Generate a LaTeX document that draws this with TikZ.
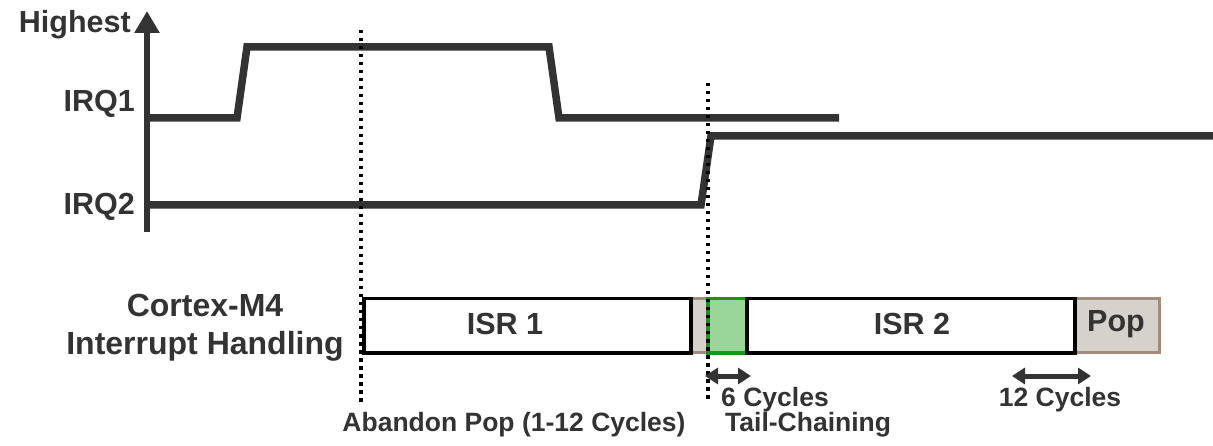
\documentclass[tikz,border=0pt]{standalone}
\usepackage{fontspec}
\setmainfont{Liberation Sans}
\usetikzlibrary{arrows.meta}
\definecolor{ink}{HTML}{333333}
\definecolor{popfill}{HTML}{D6D1CB}
\definecolor{popedge}{HTML}{A08C78}
\definecolor{tcfill}{HTML}{9AD59A}
\definecolor{tcedge}{HTML}{139913}
\tikzset{
  lbl/.style={inner sep=0pt, text=ink, font=\bfseries\fontsize{30.5}{36}\selectfont},
  small/.style={inner sep=0pt, text=ink, font=\bfseries\fontsize{26.5}{32}\selectfont},
  signal/.style={draw=ink, line width=7.5pt},
  marker/.style={draw=black, line width=3.5pt, dash pattern=on 3.5pt off 4.5pt},
  slot/.style={rectangle, inner sep=0pt, anchor=north west},
  isrbox/.style={slot, draw=black, fill=white, line width=3.5pt},
  popbox/.style={slot, draw=popedge, fill=popfill, line width=3pt},
  tcbox/.style={slot, draw=tcedge, fill=tcfill, line width=3.5pt},
  span/.style={draw=ink, line width=5pt, {Triangle[width=16pt,length=13pt]}-{Triangle[width=16pt,length=13pt]}},
}
\begin{document}
\begin{tikzpicture}[x=1pt,y=-1pt]
\useasboundingbox (0,0) rectangle (1213,446);

% priority axis
\coordinate (axbot) at (147,232);
\coordinate (axtop) at (147,11);
\draw[draw=ink, line width=6pt, -{Triangle[width=24pt,length=22pt]}] (axbot) -- (axtop);
\node[lbl, anchor=base east] (hi) at (131,33) {Highest};
\node[lbl, anchor=base east] (irq1) at (135,112) {IRQ1};
\node[lbl, anchor=base east] (irq2) at (135,215) {IRQ2};

% IRQ1 priority level
\coordinate (p1a) at (144,118);
\coordinate (p1b) at (237,118);
\coordinate (p1c) at (247,47);
\coordinate (p1d) at (549,47);
\coordinate (p1e) at (559,118);
\coordinate (p1f) at (839,118);
\draw[signal] (p1a) -- (p1b) -- (p1c) -- (p1d) -- (p1e) -- (p1f);

% IRQ2 priority level
\coordinate (p2a) at (144,205);
\coordinate (p2b) at (701,205);
\coordinate (p2c) at (711,136);
\coordinate (p2d) at (1213,136);
\draw[signal] (p2a) -- (p2b) -- (p2c) -- (p2d);

% time markers
\coordinate (m1t) at (361,30);
\coordinate (m1b) at (361,403);
\coordinate (m2t) at (708,83);
\coordinate (m2b) at (708,403);

% handling timeline
\node[popbox, minimum width=16pt, minimum height=54pt] (gap) at (690,297) {};
\node[popbox, minimum width=85pt, minimum height=54pt] (pop) at (1073,297) {};
\node[tcbox, minimum width=39pt, minimum height=54pt] (tc) at (706,297) {};
\node[isrbox, minimum width=327pt, minimum height=54pt] (isr1) at (362,297) {};
\node[isrbox, minimum width=328pt, minimum height=54pt] (isr2) at (745,297) {};
\node[lbl] (isr1t) at (505,324) {ISR 1};
\node[lbl] (isr2t) at (912,324) {ISR 2};
\node[lbl] (popt) at (1116,324) {Pop};

\draw[marker] (m1t) -- (m1b);
\draw[marker] (m2t) -- (m2b);

\node[lbl, align=center, font=\bfseries\fontsize{32}{38}\selectfont, anchor=base] (core) at (205,355) {Cortex-M4\\Interrupt Handling};

% cycle spans
\coordinate (s6l) at (705,376);
\coordinate (s6r) at (751,376);
\coordinate (s12l) at (1012,376);
\coordinate (s12r) at (1091,376);
\draw[span] (s6l) -- (s6r);
\draw[span] (s12l) -- (s12r);
\node[small, anchor=base] (c6) at (775,406) {6 Cycles};
\node[small, anchor=base] (c12) at (1060,406) {12 Cycles};
\node[small, anchor=base] (ab) at (514,431) {Abandon Pop (1-12 Cycles)};
\node[small, anchor=base west] (tail) at (725,431) {Tail-Chaining};
\end{tikzpicture}
\end{document}
